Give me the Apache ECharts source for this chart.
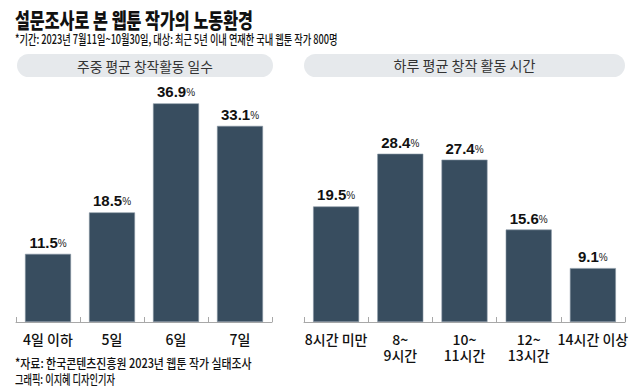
<!DOCTYPE html>
<html>
<head>
<meta charset="utf-8">
<script src="https://cdn.jsdelivr.net/npm/echarts@6/dist/echarts.min.js"></script>
<style>
html,body{margin:0;padding:0;background:#fff;}
#chart{width:640px;height:390px;}
</style>
</head>
<body>
<div id="chart"></div>
<script>
// ---- data ----
const titleText = '설문조사로 본 웹툰 작가의 노동환경';
const subtitleText = '*기간: 2023년 7월11일~10월30일, 대상: 최근 5년 이내 연재한 국내 웹툰 작가 800명';
const daysTitle = '주중 평균 창작활동 일수';
const hoursTitle = '하루 평균 창작 활동 시간';
const daysCategories = ['4일 이하', '5일', '6일', '7일'];
const daysValues = [11.5, 18.5, 36.9, 33.1];
const hoursCategories = ['8시간 미만', '8~\n9시간', '10~\n11시간', '12~\n13시간', '14시간 이상'];
const hoursValues = [19.5, 28.4, 27.4, 15.6, 9.1];
const sourceText = '*자료: 한국콘텐츠진흥원 2023년 웹툰 작가 실태조사';
const creditText = '그래픽: 이지혜 디자인기자';

// ---- helpers ----
const KR = '"Noto Sans CJK KR", "Noto Sans", sans-serif';
const mctx = document.createElement('canvas').getContext('2d');
function fitScale(text, font, target) {
  mctx.font = font;
  const w = mctx.measureText(text).width;
  return w > 0 ? target / w : 1;
}
function textEl(text, font, x, y, target, align, fill) {
  return {
    type: 'text', x: x, y: y,
    scaleX: fitScale(text, font, target),
    style: { text: text, font: font, fill: fill || '#1a1a1a', textAlign: align || 'left', textVerticalAlign: 'middle', verticalAlign: 'middle' },
    z: 10
  };
}

const BAR = '#384d5f';
const AX = '#a8a8a8';

function barSeries(idx, values) {
  return {
    type: 'bar', xAxisIndex: idx, yAxisIndex: idx, data: values,
    barWidth: 46,
    itemStyle: { color: BAR, borderColor: '#8796a3', borderWidth: 0.6 },
    label: {
      show: true, position: 'top', distance: 4,
      formatter: p => '{n|' + p.value.toFixed(1) + '}{p|%}',
      rich: {
        n: { fontFamily: '"Liberation Sans", Arial, sans-serif', fontWeight: 'bold', fontSize: 15, color: '#111' },
        p: { fontFamily: '"Liberation Sans", Arial, sans-serif', fontSize: 10, color: '#222', padding: [2, 0, 0, 0] }
      }
    }
  };
}
function xAx(idx, cats) {
  return {
    type: 'category', gridIndex: idx, data: cats,
    axisLine: { lineStyle: { color: AX, width: 1 } },
    axisTick: { show: true, inside: true, length: 5, lineStyle: { color: AX } },
    axisLabel: { interval: 0, color: '#111', fontSize: 14, fontWeight: 500, fontFamily: KR, margin: 9, lineHeight: 16 }
  };
}
function yAx(idx) {
  return { type: 'value', gridIndex: idx, min: 0, max: 40, show: false };
}

const chart = echarts.init(document.getElementById('chart'), null, { renderer: 'svg' });
chart.setOption({
  backgroundColor: '#fff',
  animation: false,
  grid: [
    { left: 16, width: 256, top: 85, bottom: 68 },
    { left: 304, width: 321, top: 85, bottom: 68 }
  ],
  xAxis: [xAx(0, daysCategories), xAx(1, hoursCategories)],
  yAxis: [yAx(0), yAx(1)],
  series: [barSeries(0, daysValues), barSeries(1, hoursValues)],
  graphic: [
    textEl(titleText, '900 21px ' + KR, 15, 18.5, 238, 'left', '#111'),
    textEl(subtitleText, '500 13px ' + KR, 15, 38.5, 323, 'left', '#111'),
    { type: 'rect', shape: { x: 17, y: 54, width: 256, height: 23, r: 11.5 }, style: { fill: '#e6e9ec' }, z: 1 },
    { type: 'rect', shape: { x: 304, y: 54, width: 321, height: 23, r: 11.5 }, style: { fill: '#e6e9ec' }, z: 1 },
    textEl(daysTitle, '14px ' + KR, 145, 65.5, 136, 'center', '#333'),
    textEl(hoursTitle, '14px ' + KR, 464.5, 65.5, 142, 'center', '#333'),
    textEl(sourceText, '500 13px ' + KR, 15, 362, 237, 'left', '#111'),
    textEl(creditText, '500 13px ' + KR, 15, 378, 100, 'left', '#111')
  ]
});
</script>
</body>
</html>
